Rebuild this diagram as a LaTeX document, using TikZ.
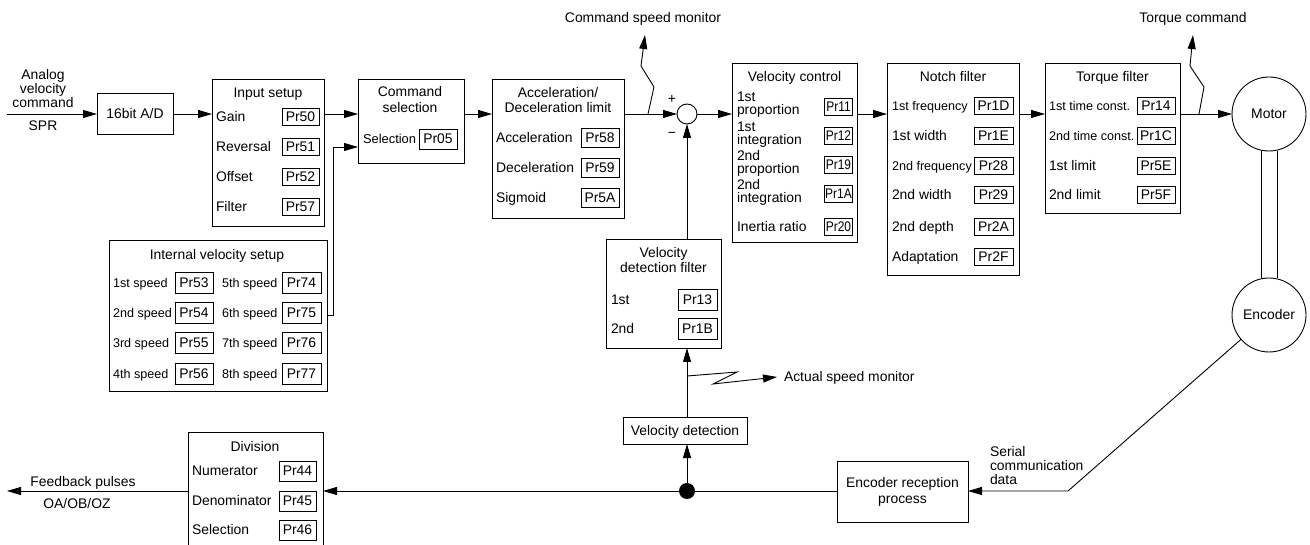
\documentclass[tikz,border=0pt]{standalone}
\usepackage{fontspec}
\setmainfont{Liberation Sans}
\usepackage{graphicx}
\usetikzlibrary{arrows.meta,calc}
\newcommand{\myfs}[2]{\fontsize{#1}{#2}\selectfont}
\begin{document}
\begin{tikzpicture}[x=1pt,y=-1pt,
 font=\myfs{13.9}{15},
 every node/.style={inner sep=0pt,outer sep=0pt,text height=9.7pt,text depth=0pt},
 blk/.style={draw,line width=0.9pt,anchor=north west},
 pr/.style={draw,line width=0.9pt,minimum width=38pt,minimum height=18pt},
 lab/.style={anchor=west},
 cond/.style={font=\myfs{12.6}{14}},
 arr/.style={line width=0.9pt,-{Triangle[length=14pt,width=8pt]}},
 ln/.style={line width=0.9pt},
 ttl/.style={align=center},
]
\useasboundingbox (0,0) rectangle (1310,545);
\clip (0,0) rectangle (1310,545);

% ---------- input ----------
\node[ttl,font=\myfs{13.9}{14}] (ain) at (43,103) {Analog\\velocity\\command};
\node (spr) at (43,126) {SPR};
\coordinate (in0) at (7,114);
\node[blk,minimum width=76pt,minimum height=41pt] (ad) at (97,93) {16bit A/D};

% ---------- input setup ----------
\node[blk,minimum width=112pt,minimum height=147pt] (inset) at (212,79) {};
\node (tinset) at (268,93) {Input setup};
\node[lab] (lgain) at (216,117) {Gain};
\node[lab] (lrev) at (216,147) {Reversal};
\node[lab] (loff) at (216,177) {Offset};
\node[lab] (lfil) at (216,207) {Filter};
\node[pr,minimum width=37pt,minimum height=17pt] (p50) at (300.5,117) {Pr50};
\node[pr,minimum width=37pt,minimum height=17pt] (p51) at (300.5,147) {Pr51};
\node[pr,minimum width=37pt,minimum height=17pt] (p52) at (300.5,177) {Pr52};
\node[pr,minimum width=37pt,minimum height=17pt] (p57) at (300.5,207) {Pr57};

% ---------- command selection ----------
\node[blk,minimum width=106pt,minimum height=84pt] (cmdsel) at (358,79) {};
\node[ttl,font=\myfs{13.9}{16}] (tcmd) at (410,108) {Command\\selection};
\node[lab,font=\myfs{12.9}{15}] (lsel) at (363,139) {Selection};
\node[pr,minimum height=20pt] (p05) at (438,139) {Pr05};

% ---------- acceleration ----------
\node[blk,minimum width=132pt,minimum height=139pt] (acc) at (492,79) {};
\node[ttl] (tacc) at (558,108) {Acceleration/\\Deceleration limit};
\node[lab] (lacc) at (496,138) {Acceleration};
\node[lab] (ldec) at (496,168) {Deceleration};
\node[lab] (lsig) at (496,198) {Sigmoid};
\node[pr,minimum height=19pt] (p58) at (600,138) {Pr58};
\node[pr,minimum height=19pt] (p59) at (600,168) {Pr59};
\node[pr,minimum height=19pt] (p5A) at (600,198) {Pr5A};

% ---------- summing point ----------
\node[circle,draw,line width=0.9pt,minimum size=20pt] (sum) at (687,114) {};
\node (plus) at (672,99) {+};
\node (minus) at (672,133) {−};

% ---------- velocity control ----------
\node[blk,minimum width=125pt,minimum height=179pt] (velctl) at (732,63) {};
\node (tvel) at (794.5,77) {Velocity control};
\node[lab,align=left,font=\myfs{13.9}{13}] (l11) at (737,110) {1st\\proportion};
\node[lab,align=left,font=\myfs{13.9}{13}] (l12) at (737,139.5) {1st\\integration};
\node[lab,align=left,font=\myfs{13.9}{13}] (l19) at (737,168.5) {2nd\\proportion};
\node[lab,align=left,font=\myfs{13.9}{13}] (l1A) at (737,197.5) {2nd\\integration};
\node[lab] (l20) at (737,227) {Inertia ratio};
\node[pr,minimum width=28pt,minimum height=17pt] (p11) at (838.5,107) {\scalebox{0.86}[1]{Pr11}};
\node[pr,minimum width=28pt,minimum height=17pt] (p12) at (838.5,136) {\scalebox{0.86}[1]{Pr12}};
\node[pr,minimum width=28pt,minimum height=17pt] (p19) at (838.5,165) {\scalebox{0.86}[1]{Pr19}};
\node[pr,minimum width=28pt,minimum height=17pt] (p1A) at (838.5,193.5) {\scalebox{0.86}[1]{Pr1A}};
\node[pr,minimum width=28pt,minimum height=17pt] (p20) at (838.5,227) {\scalebox{0.86}[1]{Pr20}};

% ---------- notch filter ----------
\node[blk,minimum width=132pt,minimum height=212pt] (notch) at (887,63) {};
\node (tnotch) at (953,77) {Notch filter};
\node[lab,cond] (ln1) at (892,106) {1st frequency};
\node[lab] (ln2) at (892,136) {1st width};
\node[lab,cond] (ln3) at (892,166) {2nd frequency};
\node[lab] (ln4) at (892,195) {2nd width};
\node[lab] (ln5) at (892,227) {2nd depth};
\node[lab] (ln6) at (892,257) {Adaptation};
\node[pr,minimum width=39pt,minimum height=17pt] (p1D) at (993.5,106) {Pr1D};
\node[pr,minimum width=39pt,minimum height=17pt] (p1E) at (993.5,136) {Pr1E};
\node[pr,minimum width=39pt,minimum height=17pt] (p28) at (993.5,166) {Pr28};
\node[pr,minimum width=39pt,minimum height=17pt] (p29) at (993.5,195) {Pr29};
\node[pr,minimum width=39pt,minimum height=17pt] (p2A) at (993.5,227) {Pr2A};
\node[pr,minimum width=39pt,minimum height=17pt] (p2F) at (993.5,257) {Pr2F};

% ---------- torque filter ----------
\node[blk,minimum width=135pt,minimum height=150pt] (torq) at (1045,63) {};
\node (ttorq) at (1112.5,77) {Torque filter};
\node[lab,cond] (lt1) at (1049,106) {1st time const.};
\node[lab,cond] (lt2) at (1049,136) {2nd time const.};
\node[lab] (lt3) at (1049,166) {1st limit};
\node[lab] (lt4) at (1049,195) {2nd limit};
\node[pr,minimum height=17pt] (p14) at (1156,106) {Pr14};
\node[pr,minimum height=17pt] (p1C) at (1156,136) {Pr1C};
\node[pr,minimum height=17pt] (p5E) at (1156,166) {Pr5E};
\node[pr,minimum height=17pt] (p5F) at (1156,195) {Pr5F};

% ---------- motor / encoder ----------
\node[circle,draw,line width=0.9pt,minimum size=74pt] (motor) at (1269,114) {Motor};
\node[circle,draw,line width=0.9pt,minimum size=74pt] (enc) at (1269,315) {Encoder};
\draw[ln] ([xshift=-8pt]motor.south) -- ([xshift=-8pt]enc.north);
\draw[ln] ([xshift=8pt]motor.south) -- ([xshift=8pt]enc.north);

% ---------- monitors ----------
\node (tcmon) at (643,18) {Command speed monitor};
\node (ttmon) at (1193,18) {Torque command};
\coordinate (c1) at (648,114);
\coordinate (c2) at (654,87);
\coordinate (c3) at (641,66);
\coordinate (c4) at (645,35);
\coordinate (t1) at (1199,114);
\coordinate (t2) at (1204,87);
\coordinate (t3) at (1190,66);
\coordinate (t4) at (1193,35);

% ---------- velocity detection filter ----------
\node[blk,minimum width=115pt,minimum height=109pt] (velfilt) at (606,239) {};
\node[ttl] (tvf) at (663.5,268) {Velocity\\detection filter};
\node[lab] (lvf1) at (611,300) {1st};
\node[lab] (lvf2) at (611,329) {2nd};
\node[pr,minimum width=39pt,minimum height=21pt] (p13) at (697.5,300) {Pr13};
\node[pr,minimum width=39pt,minimum height=21pt] (p1B) at (697.5,329) {Pr1B};

\node[blk,minimum width=124pt,minimum height=27pt] (veldet) at (623,417) {Velocity detection};
\node[lab] (tasm) at (784,377) {Actual speed monitor};
\coordinate (a1) at (687,376);
\coordinate (a2) at (737,372);
\coordinate (a3) at (713,384);
\coordinate (a4) at (777,377);

% ---------- bottom row ----------
\node[circle,fill,minimum size=16pt] (dot) at (687,491) {};
\node[blk,minimum width=131pt,minimum height=61pt] (encrec) at (837,461) {};
\node[ttl,font=\myfs{13.9}{16}] (tencrec) at (902.5,499) {Encoder reception\\process};
\node[lab,align=left,font=\myfs{13.9}{14}] (tser) at (990,480) {Serial\\communication\\data};
\coordinate (s1) at (1068,491);

\node[blk,minimum width=135pt,minimum height=140pt] (division) at (188,432) {};
\node (tdiv) at (255,447) {Division};
\node[lab] (lnum) at (192,471) {Numerator};
\node[lab] (lden) at (192,501) {Denominator};
\node[lab] (ldsel) at (192,530) {Selection};
\node[pr,minimum width=37pt,minimum height=20pt] (p44) at (297.5,471) {Pr44};
\node[pr,minimum width=37pt,minimum height=20pt] (p45) at (297.5,501) {Pr45};
\node[pr,minimum width=37pt,minimum height=20pt] (p46) at (297.5,530) {Pr46};
\coordinate (fb) at (7,491);
\node (tfb) at (83,482) {Feedback pulses};
\node (toa) at (77,504) {OA/OB/OZ};

% ---------- internal velocity setup ----------
\node[blk,minimum width=218pt,minimum height=151pt] (intvel) at (109,240) {};
\node (tint) at (217,255) {Internal velocity setup};
\node[lab,cond] (ls1) at (113,283) {1st speed};
\node[lab,cond] (ls2) at (113,313) {2nd speed};
\node[lab,cond] (ls3) at (113,343) {3rd speed};
\node[lab,cond] (ls4) at (113,374) {4th speed};
\node[lab,cond] (ls5) at (222,283) {5th speed};
\node[lab,cond] (ls6) at (222,313) {6th speed};
\node[lab,cond] (ls7) at (222,343) {7th speed};
\node[lab,cond] (ls8) at (222,374) {8th speed};
\node[pr,minimum height=21pt] (p53) at (194,283) {Pr53};
\node[pr,minimum height=21pt] (p54) at (194,313) {Pr54};
\node[pr,minimum height=21pt] (p55) at (194,343) {Pr55};
\node[pr,minimum height=21pt] (p56) at (194,374) {Pr56};
\node[pr,minimum width=39pt,minimum height=21pt] (p74) at (301.5,283) {Pr74};
\node[pr,minimum width=39pt,minimum height=21pt] (p75) at (301.5,313) {Pr75};
\node[pr,minimum width=39pt,minimum height=21pt] (p76) at (301.5,343) {Pr76};
\node[pr,minimum width=39pt,minimum height=21pt] (p77) at (301.5,374) {Pr77};
\coordinate (j1) at (333,315);
\coordinate (j2) at (333,147);
\coordinate (m) at (0,114);

% ---------- connectors ----------
\draw[arr] (in0) -- (ad.west |- in0);
\draw[arr] (ad.east |- m) -- (inset.west |- m);
\draw[arr] (inset.east |- m) -- (cmdsel.west |- m);
\draw[arr] (intvel.east |- j1) -- (j1) -- (j2) -- (cmdsel.west |- j2);
\draw[arr] (cmdsel.east |- m) -- (acc.west |- m);
\draw[arr] (acc.east |- m) -- (sum.west);
\draw[arr] (sum.east) -- (velctl.west |- m);
\draw[arr] (velctl.east |- m) -- (notch.west |- m);
\draw[arr] (notch.east |- m) -- (torq.west |- m);
\draw[arr] (torq.east |- m) -- (motor.west);
\draw[arr] (c1) -- (c2) -- (c3) -- (c4);
\draw[arr] (t1) -- (t2) -- (t3) -- (t4);
\draw[arr] (velfilt.north -| sum) -- (sum.south);
\draw[arr] (veldet.north -| dot) -- (velfilt.south -| dot);
\draw[arr] (a1) -- (a2) -- (a3) -- (a4);
\draw[arr] (dot) -- (veldet.south -| dot);
\draw[arr] (enc.221) -- (s1) -- (encrec.east |- s1);
\draw[ln] (encrec.west |- dot) -- (dot);
\draw[arr] (dot) -- (division.east |- dot);
\draw[arr] (division.west |- dot) -- (fb);
\end{tikzpicture}
\end{document}
